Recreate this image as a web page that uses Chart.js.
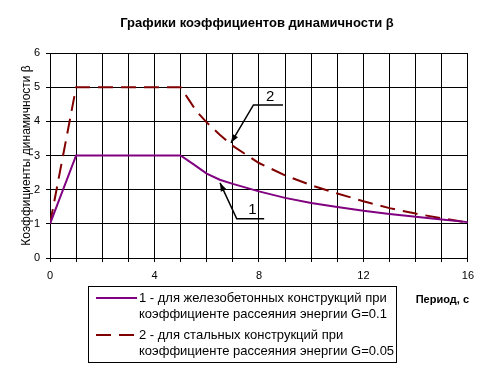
<!DOCTYPE html>
<html>
<head>
<meta charset="utf-8">
<script src="https://cdn.jsdelivr.net/npm/chart.js@4.4.0/dist/chart.umd.min.js"></script>
<style>
  html, body { margin: 0; padding: 0; background: #fff; }
  #wrap { width: 481px; height: 377px; }
</style>
</head>
<body>
<div id="wrap"><canvas id="beta"></canvas></div>
<script>
// период, с  /  коэффициент динамичности
var periods_1 = [0, 1, 5, 5.5, 6, 6.5, 7, 8, 9, 10, 11, 12, 13, 14, 15, 16];
var beta_1    = [1, 3, 3, 2.74, 2.47, 2.29, 2.17, 1.95, 1.76, 1.61, 1.49, 1.38, 1.29, 1.21, 1.13, 1.05];

var periods_2 = [0, 1, 5, 5.3, 5.6, 6, 6.5, 7, 8, 9, 10, 11, 12, 13, 14, 15, 16];
var beta_2    = [1, 5, 5, 4.65, 4.3, 3.97, 3.61, 3.28, 2.78, 2.42, 2.13, 1.89, 1.66, 1.46, 1.3, 1.16, 1.04];

var label_1 = ['1 - для железобетонных конструкций при', 'коэффициенте рассеяния энергии G=0.1'];
var label_2 = ['2 - для стальных конструкций при', 'коэффициенте рассеяния энергии G=0.05'];

var xTicks = [0, 4, 8, 12, 16];

// выноски "1" и "2" (в координатах графика): острие, начало полки, конец полки
var callout_1 = { text: '1', tip: [6.51, 2.2], knee: [7.15, 1.15], end: [8.2, 1.15] };
var callout_2 = { text: '2', tip: [6.93, 3.37], knee: [7.79, 4.48], end: [8.92, 4.48] };

var FONT = 'Arial, "Liberation Sans", sans-serif';

function toPoints(xs, ys) {
    return xs.map(function (x, i) { return { x: x, y: ys[i] }; });
}

var extras = {
    id: 'extras',
    afterDraw: function (chart) {
        var ctx = chart.ctx;
        var xs = chart.scales.x, ys = chart.scales.y;
        ctx.save();

        // заголовок
        ctx.fillStyle = '#000';
        ctx.font = 'bold 13px ' + FONT;
        ctx.textAlign = 'center';
        ctx.textBaseline = 'middle';
        ctx.fillText('Графики коэффициентов динамичности β', 257, 23);

        // подпись оси X
        ctx.font = 'bold 11px ' + FONT;
        ctx.textAlign = 'right';
        ctx.fillText('Период, с', 469, 300);

        // выноски
        [callout_1, callout_2].forEach(function (c) {
            var tx = xs.getPixelForValue(c.tip[0]), ty = ys.getPixelForValue(c.tip[1]);
            var kx = xs.getPixelForValue(c.knee[0]), ky = ys.getPixelForValue(c.knee[1]);
            var ex = xs.getPixelForValue(c.end[0]);
            ctx.strokeStyle = '#000';
            ctx.lineWidth = 1.5;
            ctx.beginPath();
            ctx.moveTo(ex, ky);
            ctx.lineTo(kx, ky);
            ctx.lineTo(tx, ty);
            ctx.stroke();
            var ang = Math.atan2(ty - ky, tx - kx);
            ctx.fillStyle = '#000';
            ctx.beginPath();
            ctx.moveTo(tx, ty);
            ctx.lineTo(tx - 9 * Math.cos(ang - 0.35), ty - 9 * Math.sin(ang - 0.35));
            ctx.lineTo(tx - 9 * Math.cos(ang + 0.35), ty - 9 * Math.sin(ang + 0.35));
            ctx.closePath();
            ctx.fill();
            ctx.font = '15px ' + FONT;
            ctx.textAlign = 'center';
            ctx.textBaseline = 'bottom';
            ctx.fillText(c.text, (kx + ex) / 2 + 2, ky - 1);
        });

        // легенда
        ctx.strokeStyle = '#000';
        ctx.lineWidth = 1;
        ctx.strokeRect(88.5, 286.5, 308, 76);
        ctx.font = '13px ' + FONT;
        ctx.textAlign = 'left';
        ctx.textBaseline = 'middle';
        var items = [
            { ds: chart.data.datasets[0], lines: label_1, y: 298 },
            { ds: chart.data.datasets[1], lines: label_2, y: 335 }
        ];
        items.forEach(function (it) {
            ctx.strokeStyle = it.ds.borderColor;
            ctx.lineWidth = 2;
            ctx.setLineDash(it.ds.borderDash || []);
            ctx.beginPath();
            ctx.moveTo(96, it.y);
            ctx.lineTo(137, it.y);
            ctx.stroke();
            ctx.setLineDash([]);
            ctx.fillStyle = '#000';
            it.lines.forEach(function (t, i) {
                ctx.fillText(t, 139, it.y + i * 16);
            });
        });
        ctx.restore();
    }
};

var ctx = document.getElementById('beta').getContext('2d');
var chart = new Chart(ctx, {
    type: 'scatter',
    data: {
        datasets: [{
            label: label_1.join(' '),
            data: toPoints(periods_1, beta_1),
            showLine: true,
            borderColor: '#800080',
            borderWidth: 2,
            pointRadius: 0,
            fill: false
        }, {
            label: label_2.join(' '),
            data: toPoints(periods_2, beta_2),
            showLine: true,
            borderColor: '#800000',
            borderWidth: 2,
            borderDash: [15, 8],
            pointRadius: 0,
            fill: false
        }]
    },
    options: {
        responsive: true,
        maintainAspectRatio: false,
        animation: false,
        layout: { padding: { top: 53, left: 15, right: 13, bottom: 0 } },
        plugins: {
            legend: { display: false },
            title: { display: false },
            tooltip: { enabled: false }
        },
        scales: {
            x: {
                type: 'linear',
                min: 0,
                max: 16,
                afterFit: function (s) { s.height = 119; },
                ticks: {
                    stepSize: 1,
                    autoSkip: false,
                    maxRotation: 0,
                    padding: 7,
                    color: '#000',
                    font: { family: FONT, size: 11 },
                    callback: function (v) { return xTicks.indexOf(v) >= 0 ? v : ''; }
                },
                grid: { color: '#000', lineWidth: 1, tickLength: 4 },
                border: { color: '#000', width: 1 }
            },
            y: {
                min: 0,
                max: 6,
                afterFit: function (s) { s.width = 35; },
                ticks: {
                    stepSize: 1,
                    padding: 6,
                    color: '#000',
                    font: { family: FONT, size: 11 }
                },
                grid: { color: '#000', lineWidth: 1, tickLength: 4 },
                border: { color: '#000', width: 1 },
                title: {
                    display: true,
                    text: 'Коэффициенты динамичности β',
                    color: '#000',
                    font: { family: FONT, size: 12 },
                    padding: { top: 4, bottom: 0 }
                }
            }
        }
    },
    plugins: [extras]
});
</script>
</body>
</html>
